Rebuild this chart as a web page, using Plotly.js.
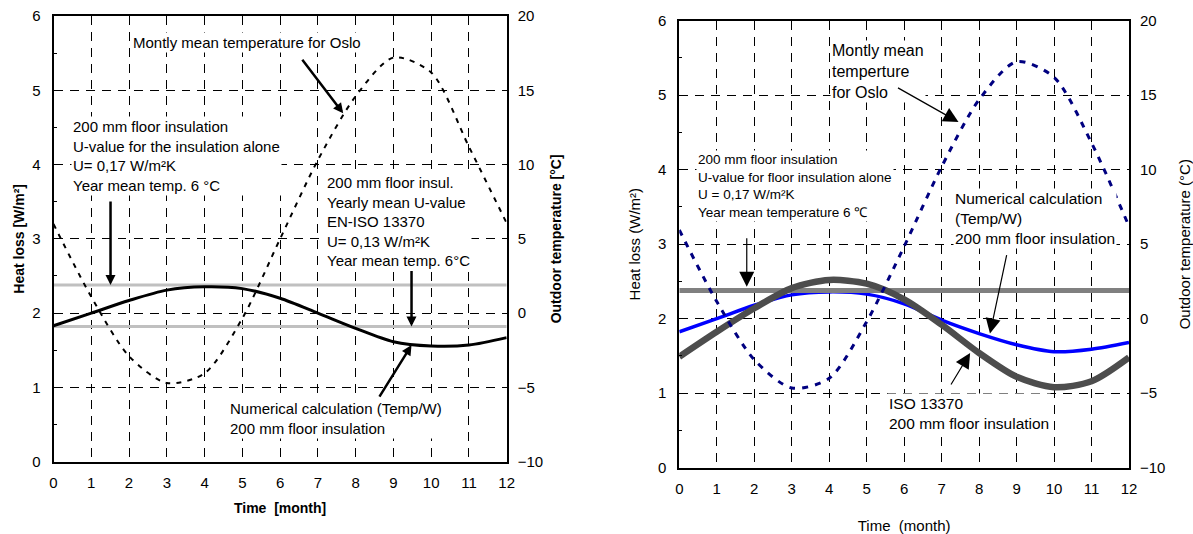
<!DOCTYPE html>
<html>
<head>
<meta charset="utf-8">
<script src="https://cdn.plot.ly/plotly-3.0.1.min.js"></script>
<style>
  html, body { margin: 0; padding: 0; background: #fff; }
  #chart { width: 1193px; height: 534px; }
</style>
</head>
<body>
<div id="chart"></div>
<script>
// Floor heat loss over a year, 200 mm floor insulation, Oslo climate
const months = [0, 1, 2, 3, 4, 5, 6, 7, 8, 9, 10, 11, 12];
const monthTicks = ['0', '1', '2', '3', '4', '5', '6', '7', '8', '9', '10', '11', '12'];

// Monthly mean outdoor temperature for Oslo (°C)
const osloTempLeft = [6.0, 1.1, -2.9, -4.7, -4.05, -0.35, 5.0, 10.3, 14.6, 17.2, 16.2, 11.2, 6.05];
const osloTempRight = [5.95, 1.15, -2.75, -4.65, -4.0, -0.2, 4.85, 10.2, 14.7, 17.25, 16.2, 11.8, 6.2];

// Numerical calculation (Temp/W), heat loss W/m²
const numericalLeft = [1.83, 2.0, 2.17, 2.31, 2.355, 2.33, 2.2, 2.0, 1.795, 1.615, 1.557, 1.57, 1.67];
const numericalRight = [1.825, 2.0, 2.18, 2.32, 2.36, 2.33, 2.2, 1.98, 1.8, 1.65, 1.557, 1.59, 1.68];

// ISO 13370 monthly heat loss, W/m²
const isoMonthly = [1.49, 1.825, 2.14, 2.41, 2.52, 2.47, 2.26, 1.92, 1.54, 1.22, 1.08, 1.16, 1.48];

// Constant heat loss levels, W/m²
const lossInsulationAlone = [2.38, 2.38]; // U = 0,17 W/m²K
const lossYearlyIso = [1.82, 1.82];       // U = 0,13 W/m²K
const yearSpan = [0, 12];

const W = 1193, H = 534;
const fx = p => p / W;
const fy = p => 1 - p / H;
const FONT = 'Liberation Sans, Arial, sans-serif';

const traces = [
  // left panel
  { x: yearSpan, y: lossInsulationAlone, xaxis: 'x', yaxis: 'y', mode: 'lines',
    line: { color: '#c0c0c0', width: 3 }, name: 'U 0,17' },
  { x: yearSpan, y: lossYearlyIso, xaxis: 'x', yaxis: 'y', mode: 'lines',
    line: { color: '#c0c0c0', width: 3 }, name: 'U 0,13' },
  { x: months, y: numericalLeft, xaxis: 'x', yaxis: 'y', mode: 'lines',
    line: { color: '#000', width: 3, shape: 'spline', smoothing: 0.8 }, name: 'Numerical' },
  { x: months, y: osloTempLeft, xaxis: 'x', yaxis: 'y2', mode: 'lines',
    line: { color: '#000', width: 2, dash: '5px,6px', shape: 'spline', smoothing: 0.8 }, name: 'Oslo' },
  // right panel
  { x: months, y: numericalRight, xaxis: 'x2', yaxis: 'y3', mode: 'lines',
    line: { color: '#0000ff', width: 3.5, shape: 'spline', smoothing: 0.8 }, name: 'Numerical' },
  { x: yearSpan, y: lossInsulationAlone, xaxis: 'x2', yaxis: 'y3', mode: 'lines',
    line: { color: '#808080', width: 5 }, name: 'U 0,17' },
  { x: months, y: isoMonthly, xaxis: 'x2', yaxis: 'y3', mode: 'lines',
    line: { color: '#4d4d4d', width: 6.5, shape: 'spline', smoothing: 0.8 }, name: 'ISO 13370' },
  { x: months, y: osloTempRight, xaxis: 'x2', yaxis: 'y4', mode: 'lines',
    line: { color: '#000080', width: 3, dash: '6px,7px', shape: 'spline', smoothing: 0.8 }, name: 'Oslo' }
];

const gridStyle = { showgrid: true, gridcolor: '#000', gridwidth: 1, griddash: '9px,7px', zeroline: false };

function xAxis(domain, title, bold, standoff) {
  return Object.assign({
    domain: domain, range: [0, 12], tickmode: 'array', tickvals: months, ticktext: monthTicks,
    showline: true, linecolor: '#000', linewidth: 2, mirror: true, ticks: '',
    tickfont: { family: FONT, size: 15, color: '#000' }, ticklabelstandoff: 6,
    title: { text: title, font: { family: FONT, size: bold ? 14 : 15, color: '#000' }, standoff: standoff }
  }, gridStyle);
}
function yLeft(domain, anchor, title, bold, standoff) {
  return Object.assign({
    domain: domain, anchor: anchor, range: [0, 6], dtick: 1, tick0: 0,
    showline: true, linecolor: '#000', linewidth: 2, mirror: true,
    ticks: 'inside', ticklen: 5, tickcolor: '#000',
    minor: { dtick: 0.5, ticks: 'inside', ticklen: 3, tickcolor: '#000', showgrid: false },
    tickfont: { family: FONT, size: 15, color: '#000' }, ticklabelstandoff: 8,
    title: { text: title, font: { family: FONT, size: bold ? 14 : 15, color: '#000' }, standoff: standoff }
  }, gridStyle);
}
function yRight(overlay, anchor, title, bold, standoff) {
  return {
    overlaying: overlay, anchor: anchor, side: 'right', range: [-10, 20], dtick: 5, tick0: -10,
    showgrid: false, zeroline: false, showline: false, ticks: '',
    tickfont: { family: FONT, size: 15, color: '#000' }, ticklabelstandoff: 10,
    title: { text: title, font: { family: FONT, size: bold ? 14 : 15, color: '#000' }, standoff: standoff }
  };
}

const leftX = [fx(53.5), fx(506.7)], leftY = [fy(461.7), fy(16)];
const rightX = [fx(679.3), fx(1129)], rightY = [fy(467.7), fy(20.7)];

function note(xp, yp, text, size) {
  return { xref: 'paper', yref: 'paper', x: fx(xp), y: fy(yp), xanchor: 'left', yanchor: 'middle',
    align: 'left', text: text, showarrow: false, bgcolor: '#fff', borderpad: 1,
    font: { family: FONT, size: size, color: '#000' } };
}
function arrow(xr, yr, x, y, ax, ay, width, size) {
  return { xref: xr, yref: yr, x: x, y: y, ax: ax, ay: ay, text: '', showarrow: true,
    arrowhead: 2, arrowsize: size, arrowwidth: width, arrowcolor: '#000', standoff: 0 };
}

const annotations = [
  // left panel
  note(131, 43, 'Montly mean temperature for Oslo', 15),
  note(71, 156, '200 mm floor insulation<br>U-value for the insulation alone<br>U= 0,17 W/m²K<br>Year mean temp. 6 °C', 15),
  note(325, 221, '200 mm floor insul.<br>Yearly mean U-value<br>EN-ISO 13370<br>U= 0,13 W/m²K<br>Year mean temp. 6°C', 15),
  note(228, 418.5, 'Numerical calculation (Temp/W)<br>200 mm floor insulation', 15),
  arrow('x', 'y', 7.67, 4.69, -42, -55, 2.5, 0.8),
  arrow('x', 'y', 1.51, 2.38, 0, -85, 2.5, 0.8),
  arrow('x', 'y', 9.48, 1.82, 0, -57, 2.5, 0.8),
  arrow('x', 'y', 9.48, 1.57, -33, 53, 2.5, 0.8),
  // right panel
  note(830, 71, 'Montly mean<br>temperture<br>for Oslo', 16),
  note(695.5, 185.5, '200 mm floor insulation<br>U-value for floor insulation alone<br>U = 0,17 W/m²K<br>Year mean temperature 6 ℃', 13.5),
  note(953, 218.3, 'Numerical calculation<br>(Temp/W)<br>200 mm floor insulation', 15.5),
  note(887, 413, 'ISO 13370<br>200 mm floor insulation', 15.5),
  arrow('x2', 'y3', 7.45, 4.64, -62, -35, 1.2, 2.5),
  arrow('x2', 'y3', 1.80, 2.43, 0, -50, 1.2, 2.5),
  arrow('x2', 'y3', 8.29, 1.80, 17, -80, 1.2, 2.5),
  arrow('x2', 'y3', 7.76, 1.54, -20, 33, 1.2, 2.5)
];

const layout = {
  width: W, height: H, autosize: false,
  margin: { l: 0, r: 0, t: 0, b: 0, pad: 0 },
  paper_bgcolor: '#fff', plot_bgcolor: '#fff',
  showlegend: false,
  font: { family: FONT, color: '#000' },
  xaxis: xAxis(leftX, '<b>Time\u00a0 [month]</b>', true, 13),
  yaxis: yLeft(leftY, 'x', '<b>Heat loss [W/m²]</b>', true, 4),
  yaxis2: yRight('y', 'x', '<b>Outdoor temperature [°C]</b>', true, 9),
  xaxis2: xAxis(rightX, 'Time\u00a0 (month)', false, 25),
  yaxis3: yLeft(rightY, 'x2', 'Heat loss (W/m²)', false, 14),
  yaxis4: yRight('y3', 'x2', 'Outdoor temperature (°C)', false, 20),
  annotations: annotations
};
layout.xaxis.anchor = 'y';
layout.xaxis2.anchor = 'y3';

Plotly.newPlot('chart', traces, layout, { staticPlot: true, displayModeBar: false });
</script>
</body>
</html>
